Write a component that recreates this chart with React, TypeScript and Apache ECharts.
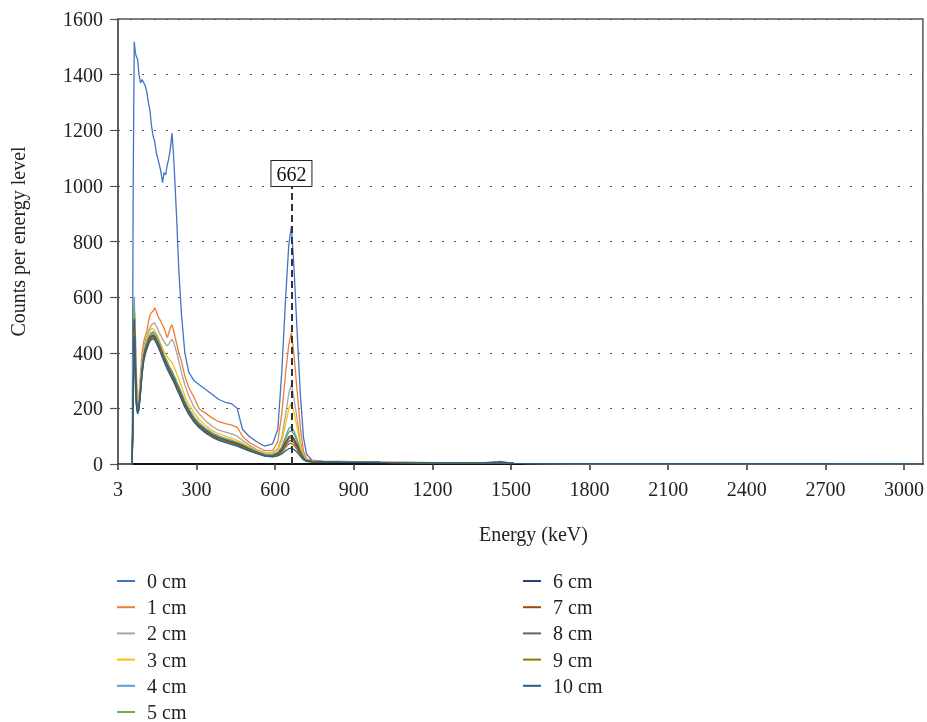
import React, { useEffect, useRef } from "react";
import * as echarts from "echarts";

// Energy (keV) sample points
const energy = [3, 54, 58, 62, 66, 70, 75, 80, 86, 92, 98, 104, 110, 116, 122, 128, 134, 140, 146, 152, 158, 164, 170, 176, 182, 188, 194, 200, 206, 212, 218, 224, 232, 242, 255, 270, 290, 310, 335, 360, 385, 410, 435, 455, 475, 500, 530, 560, 590, 610, 625, 640, 652, 662, 672, 684, 696, 708, 720, 740, 780, 850, 1000, 1200, 1400, 1460, 1510, 1800, 2400, 3072];

const cm0 = [0, 0, 1000, 1518, 1480, 1465, 1455, 1400, 1370, 1382, 1372, 1360, 1338, 1300, 1270, 1215, 1180, 1160, 1120, 1098, 1075, 1050, 1012, 1048, 1040, 1075, 1100, 1135, 1190, 1110, 1000, 880, 700, 540, 400, 330, 300, 285, 268, 250, 232, 222, 216, 200, 125, 100, 80, 64, 72, 125, 330, 600, 790, 855, 700, 470, 250, 95, 35, 14, 10, 9, 7, 5, 5, 9, 2, 1, 1, 0];
const cm1 = [0, 0, 300, 560, 480, 330, 215, 240, 330, 400, 440, 460, 475, 510, 535, 545, 550, 562, 550, 532, 522, 512, 500, 488, 470, 455, 470, 492, 500, 480, 456, 432, 400, 370, 316, 275, 240, 198, 182, 165, 152, 145, 140, 132, 100, 78, 62, 48, 48, 80, 180, 330, 430, 472, 390, 260, 130, 45, 18, 12, 9, 8, 7, 5, 4, 7, 2, 1, 1, 0];
const cm2 = [0, 0, 250, 560, 450, 300, 210, 230, 300, 370, 420, 445, 460, 478, 490, 500, 505, 508, 496, 485, 470, 462, 448, 440, 430, 425, 432, 440, 448, 438, 420, 400, 370, 330, 285, 245, 205, 180, 155, 135, 122, 115, 108, 100, 85, 68, 52, 40, 40, 55, 95, 180, 255, 285, 235, 160, 80, 32, 15, 11, 9, 8, 6, 5, 4, 6, 2, 1, 1, 0];
const cm3 = [0, 0, 280, 590, 430, 260, 200, 220, 290, 360, 405, 430, 450, 465, 478, 488, 485, 480, 470, 458, 445, 430, 418, 405, 395, 385, 378, 372, 365, 352, 340, 325, 305, 280, 245, 215, 185, 160, 138, 120, 108, 100, 92, 85, 75, 62, 48, 36, 36, 50, 82, 145, 200, 218, 185, 130, 68, 28, 14, 10, 8, 7, 6, 5, 4, 6, 2, 1, 1, 0];
const cm4 = [0, 0, 300, 600, 420, 250, 200, 215, 280, 350, 395, 420, 440, 455, 465, 472, 476, 470, 462, 450, 436, 420, 405, 392, 380, 368, 356, 345, 335, 322, 310, 296, 280, 258, 228, 200, 170, 148, 128, 112, 100, 92, 85, 78, 70, 58, 45, 34, 33, 42, 62, 100, 128, 134, 118, 88, 50, 24, 13, 9, 8, 7, 6, 5, 4, 6, 2, 1, 1, 0];
const cm5 = [0, 0, 260, 565, 400, 240, 195, 210, 275, 345, 390, 415, 435, 450, 462, 468, 470, 465, 455, 443, 430, 415, 400, 386, 374, 362, 350, 338, 328, 316, 304, 290, 274, 252, 222, 194, 165, 143, 124, 108, 97, 89, 82, 76, 68, 56, 44, 33, 32, 40, 58, 92, 115, 120, 106, 80, 46, 22, 12, 9, 8, 7, 6, 5, 4, 6, 2, 1, 1, 0];
const cm6 = [0, 0, 240, 520, 380, 230, 190, 205, 268, 338, 385, 410, 428, 443, 455, 461, 463, 458, 448, 436, 424, 410, 395, 380, 368, 355, 343, 332, 321, 310, 298, 284, 268, 246, 217, 190, 160, 139, 120, 105, 94, 86, 79, 73, 65, 54, 42, 32, 30, 37, 52, 80, 98, 102, 90, 68, 40, 20, 11, 9, 8, 7, 6, 5, 4, 6, 2, 1, 1, 0];
const cm7 = [0, 0, 230, 500, 370, 225, 188, 202, 265, 334, 380, 405, 424, 440, 452, 458, 460, 455, 445, 433, 420, 406, 391, 377, 364, 351, 339, 328, 317, 306, 294, 280, 264, 242, 214, 187, 158, 137, 118, 103, 92, 84, 77, 71, 63, 52, 41, 31, 29, 35, 49, 75, 91, 95, 84, 64, 38, 19, 11, 9, 8, 7, 6, 5, 4, 6, 2, 1, 1, 0];
const cm8 = [0, 0, 220, 480, 360, 220, 185, 200, 262, 330, 376, 401, 420, 436, 448, 455, 457, 452, 442, 430, 417, 403, 388, 374, 361, 348, 336, 325, 314, 303, 291, 277, 261, 239, 211, 184, 156, 135, 116, 101, 90, 82, 75, 69, 61, 51, 40, 30, 28, 33, 45, 68, 82, 85, 76, 58, 35, 18, 10, 8, 8, 7, 6, 5, 4, 6, 2, 1, 1, 0];
const cm9 = [0, 0, 210, 470, 350, 215, 183, 198, 258, 326, 372, 398, 417, 433, 445, 452, 454, 449, 439, 427, 414, 400, 385, 371, 358, 345, 333, 322, 311, 300, 288, 274, 258, 236, 208, 181, 154, 133, 114, 99, 88, 80, 73, 67, 59, 49, 39, 29, 27, 31, 41, 61, 72, 75, 67, 52, 32, 17, 10, 8, 7, 7, 6, 5, 4, 6, 2, 1, 1, 0];
const cm10 = [0, 0, 200, 460, 340, 210, 180, 195, 255, 322, 368, 394, 413, 429, 441, 448, 450, 445, 435, 423, 410, 396, 381, 367, 354, 341, 329, 318, 307, 296, 284, 270, 254, 232, 204, 178, 151, 130, 111, 96, 85, 77, 70, 64, 56, 47, 37, 28, 26, 29, 36, 48, 55, 57, 52, 42, 28, 15, 9, 8, 7, 6, 5, 4, 4, 6, 2, 1, 1, 0];

const seriesNames = ["0 cm", "1 cm", "2 cm", "3 cm", "4 cm", "5 cm", "6 cm", "7 cm", "8 cm", "9 cm", "10 cm"];
const seriesValues = [cm0, cm1, cm2, cm3, cm4, cm5, cm6, cm7, cm8, cm9, cm10];
const seriesColors = ["#4472C4", "#ED7D31", "#A5A5A5", "#FFC000", "#5B9BD5", "#70AD47", "#264478", "#9E480E", "#636363", "#997300", "#255E91"];

const xTickValues = [0, 300, 600, 900, 1200, 1500, 1800, 2100, 2400, 2700, 3000];
const peakEnergy = 662;
const peakLabelTop = 1000;

const FONT = "'Liberation Serif', 'DejaVu Serif', serif";

export default function App() {
  const ref = useRef<HTMLDivElement>(null);
  useEffect(() => {
    if (!ref.current) return;
    const chart = echarts.init(ref.current, null, { renderer: "svg" });
    const textBase = { fontFamily: FONT, fontSize: 20, color: "#222" };

    const series: any[] = seriesNames.map((name, si) => ({
      name,
      type: "line",
      showSymbol: false,
      symbol: "none",
      smooth: false,
      color: seriesColors[si],
      lineStyle: { width: 1.3, color: seriesColors[si] },
      data: energy.map((e, i) => [e, seriesValues[si][i]]),
    }));

    series[series.length - 1].markLine = {
      silent: true,
      symbol: "none",
      animation: false,
      lineStyle: { color: "#333", type: [7, 4], width: 2 },
      label: {
        show: true,
        position: "end",
        distance: 0,
        formatter: String(peakEnergy),
        ...textBase,
        color: "#111",
        backgroundColor: "#fff",
        borderColor: "#222",
        borderWidth: 1,
        padding: [3, 5, 2, 5],
      },
      data: [[{ coord: [peakEnergy, 0] }, { coord: [peakEnergy, peakLabelTop] }]],
    };

    const legendCommon = {
      orient: "vertical",
      icon: "rect",
      itemWidth: 18,
      itemHeight: 2,
      itemGap: 6.2,
      top: 571,
      height: 220,
      padding: 0,
      textStyle: { ...textBase, lineHeight: 20, padding: [0, 0, 0, 7] },
    };

    chart.setOption({
      animation: false,
      textStyle: { fontFamily: FONT },
      grid: {
        left: 118,
        right: 4,
        top: 19,
        bottom: 258,
        containLabel: false,
        show: true,
        borderColor: "#555",
        borderWidth: 1.5,
        backgroundColor: "transparent",
      },
      legend: [
        { ...legendCommon, left: 117, data: seriesNames.slice(0, 6) },
        { ...legendCommon, left: 523, data: seriesNames.slice(6) },
      ],
      xAxis: {
        type: "value",
        min: 0,
        max: 3072,
        interval: 300,
        name: "Energy (keV)",
        nameLocation: "middle",
        nameGap: 60,
        nameTextStyle: { ...textBase, padding: [0, 0, 0, 26] },
        axisLine: { show: true, onZero: false, lineStyle: { color: "#111", width: 2 } },
        axisTick: { show: true, length: 6, lineStyle: { color: "#333", width: 1.5 }, customValues: xTickValues },
        axisLabel: {
          ...textBase,
          margin: 15,
          customValues: xTickValues,
          formatter: (v: number) => (v === 0 ? "3" : String(v)),
        },
        splitLine: { show: false },
      },
      yAxis: {
        type: "value",
        min: 0,
        max: 1600,
        interval: 200,
        name: "Counts per energy level",
        nameLocation: "middle",
        nameGap: 90,
        nameTextStyle: textBase,
        axisLine: { show: true, lineStyle: { color: "#555", width: 1.5 } },
        axisTick: { show: true, length: 8, lineStyle: { color: "#555", width: 1.2 } },
        axisLabel: { ...textBase, margin: 15, formatter: (v: number) => String(v) },
        splitLine: { show: true, lineStyle: { color: "#555", type: [2, 10], width: 1.2 } },
      },
      series,
    });
    return () => chart.dispose();
  }, []);
  return <div ref={ref} style={{ position: "fixed", left: 0, top: 0, width: 927, height: 722 }} />;
}
